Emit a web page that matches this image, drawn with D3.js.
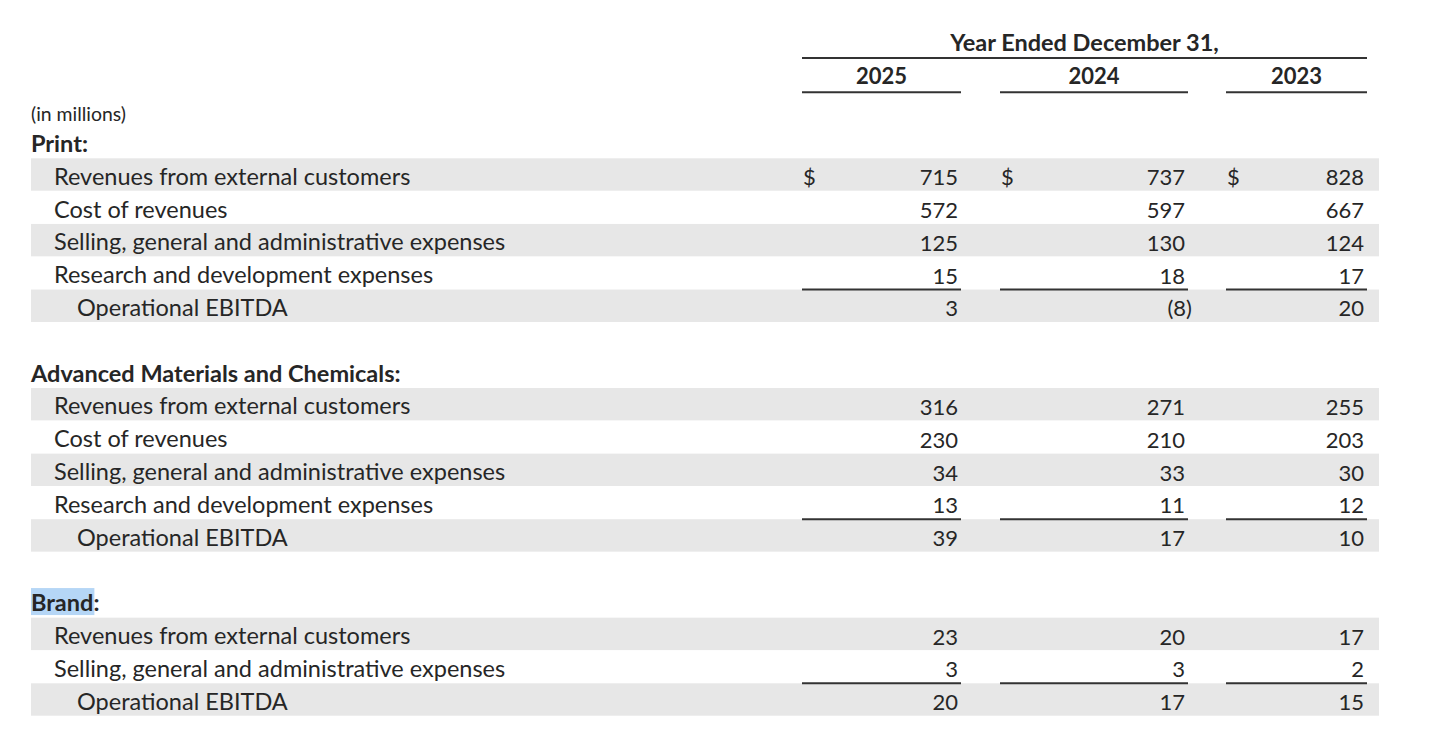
<!DOCTYPE html>
<html>
<head>
<meta charset="utf-8">
<script src="https://cdn.jsdelivr.net/npm/d3@7"></script>
<style>
  body { margin: 0; background: #fff; }
  svg { display: block; font-family: Lato, "Open Sans", sans-serif; }
</style>
</head>
<body>
<svg width="1440" height="740"></svg>
<script>
var svg = d3.select("svg");

// data
var years = ["2025", "2024", "2023"];
var segments = ["Print", "Advanced Materials and Chemicals", "Brand"];

var printItems = ["Revenues from external customers", "Cost of revenues",
    "Selling, general and administrative expenses", "Research and development expenses",
    "Operational EBITDA"];
var printValues = [[715, 737, 828], [572, 597, 667], [125, 130, 124], [15, 18, 17], [3, -8, 20]];

var amcItems = ["Revenues from external customers", "Cost of revenues",
    "Selling, general and administrative expenses", "Research and development expenses",
    "Operational EBITDA"];
var amcValues = [[316, 271, 255], [230, 210, 203], [34, 33, 30], [13, 11, 12], [39, 17, 10]];

var brandItems = ["Revenues from external customers",
    "Selling, general and administrative expenses", "Operational EBITDA"];
var brandValues = [[23, 20, 17], [3, 3, 2], [20, 17, 15]];

// build the row list
var rows = [];
[[printItems, printValues], [amcItems, amcValues], [brandItems, brandValues]].forEach(function(s, si) {
    rows.push({ type: "header", label: segments[si] + ":", seg: si });
    s[0].forEach(function(label, i) {
        rows.push({
            type: "item",
            label: label,
            values: s[1][i],
            shade: i % 2 === 0,
            total: label === "Operational EBITDA",
            dollar: si === 0 && i === 0
        });
    });
    if (si < 2) rows.push({ type: "blank" });
});
rows.forEach(function(r, i) { r.idx = i; });

// scales
var y = d3.scaleLinear().domain([0, 17]).range([141.7, 699.5]);
var rowH = 32.4;
var colLeft = d3.scaleOrdinal().domain(years).range([802, 1000, 1226]);
var colRight = d3.scaleOrdinal().domain(years).range([961, 1188, 1367]);
var fs = 22;      // numbers
var fsLabel = 23.5;
var ink = "#262626";

// stripes
svg.append("g")
    .selectAll("rect")
    .data(rows.filter(function(d) { return d.shade; }))
    .enter()
    .append("rect")
    .attr("x", 31)
    .attr("width", 1348)
    .attr("y", function(d) { return y(d.idx) - rowH / 2; })
    .attr("height", rowH)
    .attr("fill", "#e7e7e7");

// column header
svg.append("text")
    .attr("x", (colLeft(years[0]) + colRight(years[2])) / 2)
    .attr("y", 43)
    .attr("dy", "0.35em")
    .attr("text-anchor", "middle")
    .attr("font-weight", "bold")
    .attr("font-size", fsLabel)
    .attr("fill", ink)
    .text("Year Ended December 31,");

svg.append("line")
    .attr("x1", colLeft(years[0]))
    .attr("x2", colRight(years[2]))
    .attr("y1", 58)
    .attr("y2", 58)
    .attr("stroke", "#333")
    .attr("stroke-width", 2);

var yearG = svg.append("g")
    .selectAll("g")
    .data(years)
    .enter()
    .append("g");

yearG.append("text")
    .attr("x", function(d) { return (colLeft(d) + colRight(d)) / 2; })
    .attr("y", 76)
    .attr("dy", "0.35em")
    .attr("text-anchor", "middle")
    .attr("font-weight", "bold")
    .attr("font-size", 22)
    .attr("fill", ink)
    .text(function(d) { return d; });

yearG.append("line")
    .attr("x1", function(d) { return colLeft(d); })
    .attr("x2", function(d) { return colRight(d); })
    .attr("y1", 92.3)
    .attr("y2", 92.3)
    .attr("stroke", "#333")
    .attr("stroke-width", 2);

svg.append("text")
    .attr("x", 31)
    .attr("y", 114)
    .attr("dy", "0.35em")
    .attr("font-size", 19.4)
    .attr("fill", ink)
    .text("(in millions)");

// Brand highlight (selection box in the source)
var brandRow = rows.filter(function(d) { return d.type === "header" && d.seg === 2; })[0];
var probe = svg.append("text")
    .attr("font-size", fsLabel)
    .attr("font-weight", "bold")
    .text("Brand");
var brandW = probe.node().getComputedTextLength();
probe.remove();
svg.append("rect")
    .attr("x", 31)
    .attr("y", y(brandRow.idx) - 13)
    .attr("width", brandW + 1)
    .attr("height", 27)
    .attr("fill", "#b5d6f6");

// labels
svg.append("g")
    .selectAll("text")
    .data(rows.filter(function(d) { return d.type !== "blank"; }))
    .enter()
    .append("text")
    .attr("x", function(d) {
        if (d.type === "header") return 31;
        return d.total ? 77 : 54;
    })
    .attr("y", function(d) { return y(d.idx) + 2; })
    .attr("dy", "0.35em")
    .attr("font-size", fsLabel)
    .attr("font-weight", function(d) { return d.type === "header" ? "bold" : "normal"; })
    .attr("fill", ink)
    .text(function(d) { return d.label; });

// values
var items = rows.filter(function(d) { return d.type === "item"; });
var cells = [];
items.forEach(function(r) {
    r.values.forEach(function(v, j) {
        cells.push({ row: r, year: years[j], v: v });
    });
});

svg.append("g")
    .selectAll("text")
    .data(cells)
    .enter()
    .append("text")
    .attr("x", function(d) { return colRight(d.year) - 3 + (d.v < 0 ? 7 : 0); })
    .attr("y", function(d) { return y(d.row.idx) + 3; })
    .attr("dy", "0.35em")
    .attr("text-anchor", "end")
    .attr("font-size", fs)
    .attr("fill", ink)
    .text(function(d) { return d.v < 0 ? "(" + (-d.v) + ")" : d.v; });

// dollar signs
svg.append("g")
    .selectAll("text")
    .data(cells.filter(function(d) { return d.row.dollar; }))
    .enter()
    .append("text")
    .attr("x", function(d) { return colLeft(d.year) + 1; })
    .attr("y", function(d) { return y(d.row.idx) + 3; })
    .attr("dy", "0.35em")
    .attr("font-size", fs)
    .attr("fill", ink)
    .text("$");

// rules above the EBITDA rows
svg.append("g")
    .selectAll("line")
    .data(cells.filter(function(d) { return d.row.total; }))
    .enter()
    .append("line")
    .attr("x1", function(d) { return colLeft(d.year); })
    .attr("x2", function(d) { return colRight(d.year); })
    .attr("y1", function(d) { return y(d.row.idx) - rowH / 2; })
    .attr("y2", function(d) { return y(d.row.idx) - rowH / 2; })
    .attr("stroke", "#333")
    .attr("stroke-width", 2);
</script>
</body>
</html>
